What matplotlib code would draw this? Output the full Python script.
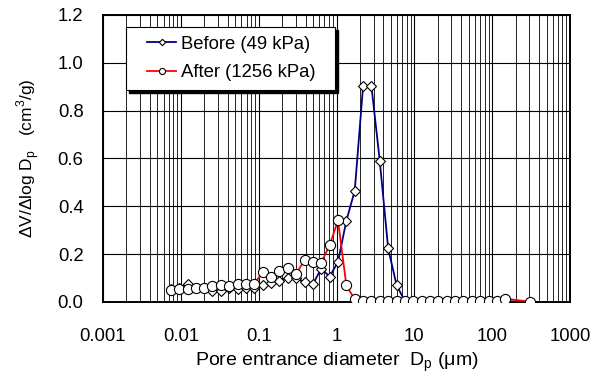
import numpy as np
import matplotlib.pyplot as plt
from matplotlib.patches import Rectangle
from matplotlib.ticker import FixedLocator, LogLocator, NullFormatter

plt.rcParams['font.family'] = ['Liberation Sans', 'DejaVu Sans']

# diametro de entrada de poro (um)
diametro = [0.0074, 0.0095, 0.0122, 0.0156, 0.0200, 0.0255, 0.0327, 0.0419,
            0.0537, 0.0688, 0.0881, 0.113, 0.1445, 0.185, 0.237, 0.303,
            0.389, 0.498, 0.637, 0.816, 1.045, 1.339, 1.715, 2.197, 2.81,
            3.60, 4.61, 5.91, 7.57, 9.70, 12.4, 15.9, 20.4, 26.1, 33.4,
            42.8, 54.8, 70.2, 89.9, 115, 147, 310]

antes = [0.055, 0.060, 0.076, 0.058, 0.057, 0.044, 0.046, 0.060, 0.053,
         0.060, 0.057, 0.071, 0.081, 0.088, 0.099, 0.100, 0.082, 0.075,
         0.140, 0.106, 0.168, 0.340, 0.465, 0.904, 0.903, 0.589, 0.224,
         0.071, 0.003, 0.002, 0.002, 0.002, 0.002, 0.002, 0.002, 0.002,
         0.002, 0.002, 0.002, 0.002, 0.003, 0.001]

despues = [0.052, 0.055, 0.053, 0.058, 0.059, 0.066, 0.072, 0.068, 0.077,
           0.077, 0.077, 0.124, 0.106, 0.129, 0.142, 0.117, 0.177, 0.169,
           0.165, 0.237, 0.342, 0.069, 0.011, 0.003, 0.003, 0.003, 0.003,
           0.003, 0.003, 0.003, 0.003, 0.003, 0.003, 0.003, 0.003, 0.003,
           0.003, 0.003, 0.003, 0.003, 0.014, 0.001]

fs = 13.3

fig = plt.figure(figsize=(6.05, 3.75), dpi=100)
ax = fig.add_axes([103/605, 73/375, 467/605, 287/375])

ax.plot(diametro, antes, color="#000080", lw=1.3, marker="D", ms=5.4,
        mfc="white", mec="black", mew=0.8, label="Before (49 kPa)", zorder=3)
ax.plot(diametro, despues, color="red", lw=1.3, marker="o", ms=7.3,
        mfc="white", mec="black", mew=0.8, label="After (1256 kPa)", zorder=4)

ax.set_xscale("log")
ax.set_xlim(0.001, 1000)
ax.set_ylim(0, 1.2)
ax.xaxis.set_major_locator(FixedLocator([0.001, 0.01, 0.1, 1, 10, 100, 1000]))
ax.set_xticklabels(["0.001", "0.01", "0.1", "1", "10", "100", "1000"])
ax.xaxis.set_minor_locator(LogLocator(base=10, subs=np.arange(2, 10), numticks=20))
ax.xaxis.set_minor_formatter(NullFormatter())
ax.set_yticks(np.arange(0, 1.21, 0.2))
ax.set_yticklabels([f"{v:.1f}" for v in np.arange(0, 1.21, 0.2)])

ax.grid(True, which="major", color="black", lw=0.8)
ax.grid(True, which="minor", axis="x", color="black", lw=0.6)
ax.tick_params(which="both", length=0, labelsize=fs)
ax.tick_params(axis="x", pad=19)
ax.tick_params(axis="y", pad=14)
for s in ax.spines.values():
    s.set_linewidth(1.4)

ax.set_xlabel("Pore entrance diameter  D$_\\mathregular{p}$ (μm)",
              fontsize=14, labelpad=4)
ax.set_ylabel("ΔV/Δlog D$_\\mathregular{p}$   (cm$^\\mathregular{3}$/g)",
              fontsize=12.5, labelpad=11)

# caja de la leyenda con sombra
x0, y0, w, h = 0.049, 0.739, 0.448, 0.219
ax.add_patch(Rectangle((x0 + 0.0064, y0 - 0.0105), w, h, transform=ax.transAxes,
                       facecolor="black", edgecolor="black", zorder=5))
ax.add_patch(Rectangle((x0, y0), w, h, transform=ax.transAxes,
                       facecolor="white", edgecolor="black", lw=0.8, zorder=5.1))

leg = ax.legend(loc="upper left", bbox_to_anchor=(0.094, 0.928), fontsize=fs,
                frameon=False, handlelength=1.6, handletextpad=0.25,
                markerscale=0.6, borderpad=0, labelspacing=0.62,
                borderaxespad=0)
leg.set_zorder(6)

fig.savefig("out.png", dpi=100)
